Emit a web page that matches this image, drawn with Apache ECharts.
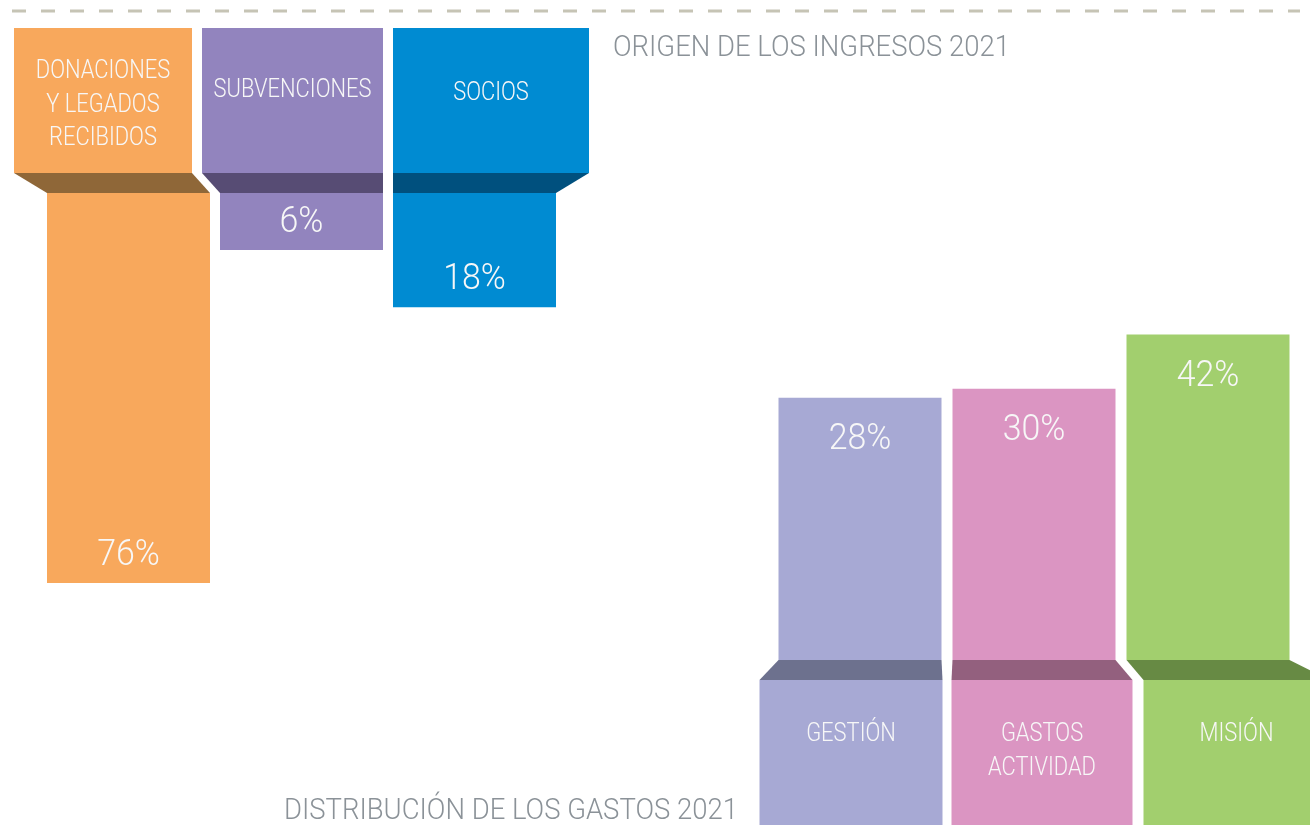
<!DOCTYPE html>
<html>
<head>
<meta charset="utf-8">
<script src="https://cdn.jsdelivr.net/npm/echarts@6/dist/echarts.min.js"></script>
<style>
  html, body { margin: 0; padding: 0; background: #ffffff; }
  #chart { width: 1310px; height: 836px; }
</style>
</head>
<body>
<div id="chart"></div>
<script>
// ---------- DATA ----------
const incomeTitle = 'ORIGEN DE LOS INGRESOS 2021';
const incomeCategories = ['DONACIONES\nY LEGADOS\nRECIBIDOS', 'SUBVENCIONES', 'SOCIOS'];
const incomeValues = [76, 6, 18];

const expenseTitle = 'DISTRIBUCIÓN DE LOS GASTOS 2021';
const expenseCategories = ['GESTIÓN', 'GASTOS\nACTIVIDAD', 'MISIÓN'];
const expenseValues = [28, 30, 42];

// ---------- STYLE ----------
const incomeColors = ['#F8A85C', '#9284BE', '#008BD2'];
const incomeFoldColors = ['#8F6738', '#574C74', '#00507E'];
const expenseColors = ['#A7A9D4', '#DB95C2', '#A2CF6E'];
const expenseFoldColors = ['#6D718E', '#93607E', '#678A44'];
const FONT = 'Roboto, "DejaVu Sans Condensed", sans-serif';
const FONT_WEIGHT = 300;
const TEXT_WHITE = '#F7F7F7';
const TITLE_GRAY = '#8B9298';
const TITLE_SIZE = 30;
const LABEL_SIZE = 26;
const PCT_SIZE = 37;

// horizontal condensing factor so the installed font matches the narrow face of the original
const measureCtx = document.createElement('canvas').getContext('2d');
measureCtx.font = FONT_WEIGHT + ' ' + TITLE_SIZE + 'px ' + FONT;
const CF = 397 / measureCtx.measureText(incomeTitle).width;
const CF_LABEL = CF * 0.92;

// layout (offsets of the header / label boxes relative to each bar's edges)
const incomeHeaderLayout = [
  { dl: -33, dr: -18, firstLine: 43.5 },
  { dl: -18, dr: 0, firstLine: 62.5 },
  { dl: 0, dr: 33, firstLine: 65.5 }
];
const expenseBoxLayout = [
  { dl: -19, dr: 1 },
  { dl: -1, dr: 17 },
  { dl: 17, dr: 40 }
];
const BAR_GAP = 10;
const FOLD_H = 20;
const HEADER_H = 145;
const LINE_H = 33.5;

function txt(text, x, y, size, fill, vAlign, cf) {
  return {
    type: 'text', x: x, y: y, scaleX: cf || CF,
    style: { text: text, x: 0, y: 0, align: 'center', verticalAlign: vAlign || 'middle', fill: fill,
             fontFamily: FONT, fontWeight: FONT_WEIGHT, fontSize: size, lineHeight: LINE_H }
  };
}

function renderIncome(params, api) {
  const i = params.dataIndex;
  const v = api.value(1);
  const cs = params.coordSys;
  const end = api.coord([i, v]);
  const band = api.size([1, 0])[0];
  const barW = band - BAR_GAP;
  const bl = end[0] - barW / 2, br = end[0] + barW / 2;
  const yTop = cs.y;
  const L = incomeHeaderLayout[i];
  const hl = bl + L.dl, hr = br + L.dr;
  const foldTop = yTop - FOLD_H;
  const headTop = foldTop - HEADER_H;
  return {
    type: 'group',
    children: [
      { type: 'rect', shape: { x: hl, y: headTop, width: hr - hl, height: HEADER_H }, style: { fill: incomeColors[i] } },
      { type: 'polygon', shape: { points: [[hl, foldTop], [hr, foldTop], [br, yTop], [bl, yTop]] }, style: { fill: incomeFoldColors[i] } },
      { type: 'rect', shape: { x: bl, y: yTop, width: barW, height: end[1] - yTop }, style: { fill: incomeColors[i] } },
      txt(incomeCategories[i], (hl + hr) / 2, headTop + L.firstLine - LINE_H / 2, LABEL_SIZE, TEXT_WHITE, 'top', CF_LABEL),
      txt(v + '%', end[0], end[1] - 27, PCT_SIZE, TEXT_WHITE)
    ]
  };
}

function renderExpense(params, api) {
  const i = params.dataIndex;
  const v = api.value(1);
  const cs = params.coordSys;
  const end = api.coord([i, v]);
  const band = api.size([1, 0])[0];
  const barW = band - BAR_GAP - 1;
  const bl = end[0] - barW / 2, br = end[0] + barW / 2;
  const yBase = cs.y + cs.height;
  const L = expenseBoxLayout[i];
  const hl = bl + L.dl, hr = br + L.dr;
  const boxTop = yBase + FOLD_H;
  return {
    type: 'group',
    children: [
      { type: 'rect', shape: { x: bl, y: end[1], width: barW, height: yBase - end[1] }, style: { fill: expenseColors[i] } },
      { type: 'polygon', shape: { points: [[bl, yBase], [br, yBase], [hr, boxTop], [hl, boxTop]] }, style: { fill: expenseFoldColors[i] } },
      { type: 'rect', shape: { x: hl, y: boxTop, width: hr - hl, height: HEADER_H }, style: { fill: expenseColors[i] } },
      txt(expenseCategories[i], (hl + hr) / 2, boxTop + 54.5 - LINE_H / 2, LABEL_SIZE, TEXT_WHITE, 'top', CF_LABEL),
      txt(v + '%', end[0], end[1] + 42, PCT_SIZE, TEXT_WHITE)
    ]
  };
}

const chart = echarts.init(document.getElementById('chart'), null, { renderer: 'canvas' });
chart.setOption({
  animation: false,
  backgroundColor: '#ffffff',
  grid: [
    { left: 42, width: 519, top: 193, height: 409 },
    { left: 773, width: 522, top: 321, height: 339 }
  ],
  xAxis: [
    { type: 'category', gridIndex: 0, data: incomeCategories, show: false },
    { type: 'category', gridIndex: 1, data: expenseCategories, show: false }
  ],
  yAxis: [
    { type: 'value', gridIndex: 0, inverse: true, min: -6, max: 80, show: false },
    { type: 'value', gridIndex: 1, min: -30, max: 45, show: false }
  ],
  graphic: [
    { type: 'line', shape: { x1: 12, y1: 11, x2: 1300, y2: 11 }, style: { stroke: '#C6C4B5', lineWidth: 3, lineDash: [14, 15] } },
    { type: 'text', x: 613, y: 48, scaleX: CF, style: { text: incomeTitle, x: 0, y: 0, align: 'left', verticalAlign: 'middle', fill: TITLE_GRAY, fontFamily: FONT, fontWeight: FONT_WEIGHT, fontSize: TITLE_SIZE } },
    { type: 'text', x: 284, y: 811, scaleX: CF, style: { text: expenseTitle, x: 0, y: 0, align: 'left', verticalAlign: 'middle', fill: TITLE_GRAY, fontFamily: FONT, fontWeight: FONT_WEIGHT, fontSize: TITLE_SIZE } }
  ],
  series: [
    {
      type: 'custom', xAxisIndex: 0, yAxisIndex: 0,
      renderItem: renderIncome,
      encode: { x: 0, y: 1 },
      data: incomeValues.map((v, i) => [i, v])
    },
    {
      type: 'custom', xAxisIndex: 1, yAxisIndex: 1,
      renderItem: renderExpense,
      encode: { x: 0, y: 1 },
      data: expenseValues.map((v, i) => [i, v])
    }
  ]
});
</script>
</body>
</html>
